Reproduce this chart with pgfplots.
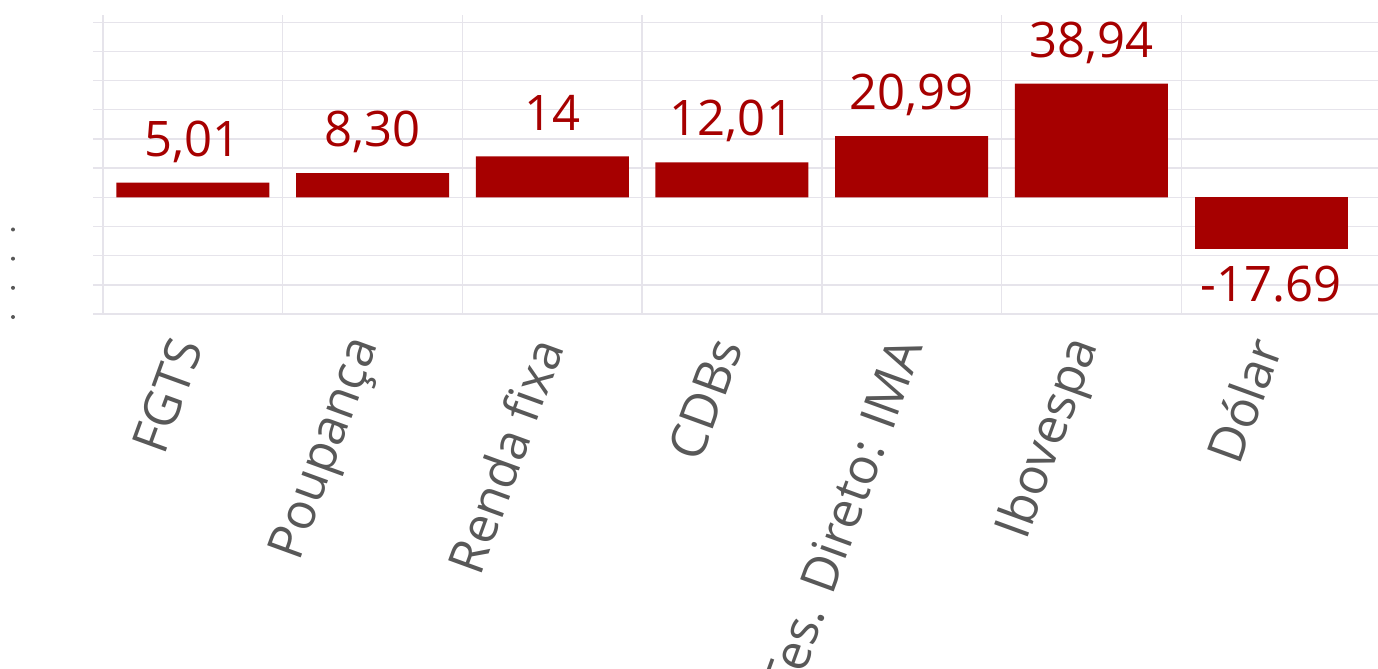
\documentclass[border=0pt]{standalone}
\usepackage{pgfplots}
\pgfplotsset{compat=1.18}
\usepackage{fontspec}
\setmainfont{Open Sans}

\definecolor{barred}{RGB}{166,0,0}
\definecolor{gridc}{RGB}{230,228,235}
\definecolor{labgray}{RGB}{88,88,88}
\newcommand\dotlab{\tikz\fill[labgray] (0,0) circle (1pt);}

\begin{document}
\begin{tikzpicture}
\begin{axis}[
    at={(0,0)}, anchor=south west,
    scale only axis,
    width=637.5pt, height=149.5pt,
    xmin=-0.5, xmax=6.595,
    ymin=-40, ymax=62.5,
    axis line style={draw=none},
    ybar, bar width=76.5pt, bar shift=0pt,
    tick align=outside,
    major tick length=5pt,
    xtick={0,...,6},
    xticklabels={FGTS, Poupança, Renda fixa, CDBs, Tes. Direto: IMA, Ibovespa, Dólar},
    xtick style={draw=none},
    xticklabel style={xshift=-1.5pt, yshift=-5pt, rotate=70, anchor=east, text=labgray,
        font=\fontsize{25}{30}\selectfont},
    extra x ticks={-0.5,0.5,...,5.5},
    extra x tick labels={},
    extra x tick style={grid=major, tick style={draw=gridc, line width=0.7pt}},
    ytick={-40,-30,...,60},
    yticklabels={\dotlab,\dotlab,\dotlab,\dotlab,,,,,,,},
    ytick style={draw=gridc, line width=0.7pt},
    yticklabel style={anchor=center, xshift=-40pt, yshift=-1.5pt},
    ymajorgrids=true,
    major grid style={draw=gridc, line width=0.7pt},
    point meta=explicit symbolic,
    nodes near coords,
    every node near coord/.append style={text=barred,
        font=\fontsize{24.5}{28}\selectfont,
        inner xsep=0pt, inner ysep=13pt, text height=13pt, text depth=0pt},
]
    \addplot[fill=barred, draw=none,
        nodes near coords style={anchor=south}] coordinates {
        (0,5.01) [{5,01}]
        (1,8.30) [{8,30}]
        (2,14) [14]
        (3,12.01) [{12,01}]
        (4,20.99) [{20,99}]
        (5,38.94) [{38,94}]
    };
    \addplot[fill=barred, draw=none,
        nodes near coords style={anchor=north}] coordinates {
        (6,-17.69) [-17.69]
    };
\end{axis}
\pgfresetboundingbox
\path[use as bounding box] (-51.5pt,-177.5pt) rectangle (637.5pt,157pt);
\end{tikzpicture}
\end{document}
